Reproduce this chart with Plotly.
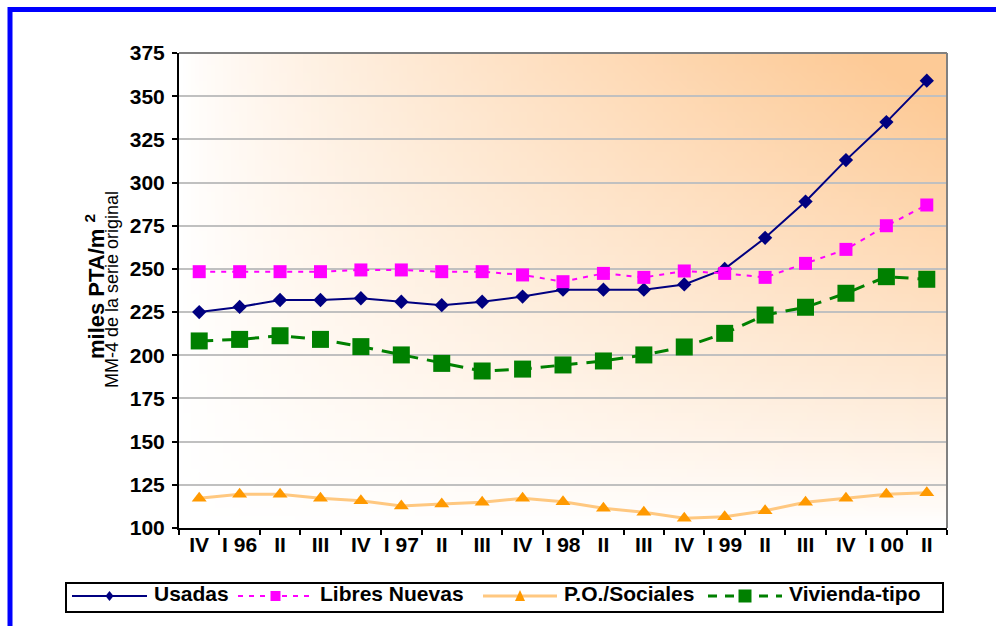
import base64
import struct
import zlib

import plotly.graph_objects as go

# Quarterly housing prices (thousand PTA per m2), four-quarter moving average
quarters = ["IV", "I 96", "II", "III", "IV", "I 97", "II", "III", "IV", "I 98",
            "II", "III", "IV", "I 99", "II", "III", "IV", "I 00", "II"]
usadas = [225, 228, 232, 232, 233, 231, 229, 231, 234, 238,
          238, 238, 241, 250, 268, 289, 313, 335, 359]
libres_nuevas = [248.4, 248.4, 248.4, 248.4, 249.4, 249.4, 248.4, 248.4, 246.5, 242.6,
                 247.4, 245.1, 248.8, 247.4, 245.1, 253.2, 261.3, 275.0, 287.0]
po_sociales = [117.2, 119.5, 119.5, 117.2, 115.8, 112.7, 113.9, 114.9, 117.2, 115.2,
               111.4, 109.1, 105.6, 106.5, 110.0, 114.9, 117.2, 119.5, 120.4]
vivienda_tipo = [208.3, 209.2, 211.3, 209.2, 205.0, 200.2, 195.3, 190.9, 192.0, 194.4,
                 196.7, 200.2, 204.8, 212.7, 223.3, 227.8, 235.9, 245.5, 244.0]
y_ticks = [100, 125, 150, 175, 200, 225, 250, 275, 300, 325, 350, 375]

W, H = 996, 626
L, R, T, B = 179, 49, 53, 98
PW, PH = W - L - R, H - T - B
FONT = "Arial, Liberation Sans, sans-serif"


def px_x(x):
    return (x - L) / PW


def px_y(y):
    return (H - B - y) / PH


def gradient_png(w, h):
    # white in the lower-left, peach towards the upper-right corner
    peach = (253, 202, 150)
    rows = []
    for j in range(h):
        yf = j / (h - 1)
        row = bytearray([0])
        for i in range(w):
            xf = i / (w - 1)
            t = min(1.0, 1.08 * (xf * (1 - yf)) ** 0.8)
            row += bytes(int(round(255 + (c - 255) * t)) for c in peach)
        rows.append(bytes(row))
    raw = b"".join(rows)

    def chunk(tag, data):
        c = struct.pack(">I", len(data)) + tag + data
        return c + struct.pack(">I", zlib.crc32(tag + data) & 0xFFFFFFFF)

    png = b"\x89PNG\r\n\x1a\n"
    png += chunk(b"IHDR", struct.pack(">IIBBBBB", w, h, 8, 2, 0, 0, 0))
    png += chunk(b"IDAT", zlib.compress(raw, 9))
    png += chunk(b"IEND", b"")
    return "data:image/png;base64," + base64.b64encode(png).decode()


xs = list(range(len(quarters)))

series = [
    dict(name="Usadas", y=usadas, line=dict(color="#000080", width=2),
         marker=dict(symbol="diamond", size=11, color="#000080")),
    dict(name="Libres Nuevas", y=libres_nuevas,
         line=dict(color="#FF00FF", width=2, dash="5px,6px"),
         marker=dict(symbol="square", size=13, color="#FF00FF")),
    dict(name="P.O./Sociales", y=po_sociales, line=dict(color="#FFC880", width=3),
         marker=dict(symbol="triangle-up", size=13, color="#FF9900")),
    dict(name="Vivienda-tipo", y=vivienda_tipo,
         line=dict(color="#008000", width=3, dash="14px,9px"),
         marker=dict(symbol="square", size=17, color="#008000")),
]

fig = go.Figure()
for s in series:
    fig.add_trace(go.Scatter(x=xs, y=s["y"], name=s["name"], mode="lines+markers",
                             line=s["line"], marker=s["marker"], showlegend=False,
                             cliponaxis=False))

shapes = []
# plot-area frame (grey top/right), outer blue frame
shapes.append(dict(type="line", xref="paper", yref="paper", x0=0, x1=1, y0=1, y1=1,
                   line=dict(color="#808080", width=2)))
shapes.append(dict(type="line", xref="paper", yref="paper", x0=1, x1=1, y0=0, y1=1,
                   line=dict(color="#808080", width=2)))
shapes.append(dict(type="rect", xref="paper", yref="paper",
                   x0=px_x(10), x1=px_x(1010), y0=px_y(640), y1=px_y(9.5),
                   line=dict(color="#0000FF", width=5), layer="above"))

# legend box and entries
shapes.append(dict(type="rect", xref="paper", yref="paper",
                   x0=px_x(66), x1=px_x(943), y0=px_y(612), y1=px_y(583),
                   line=dict(color="#000000", width=2), fillcolor="white"))
ly = 596
leg = [
    ("Usadas", 72, 147, 152, "#000080", 2, "solid", "diamond", "#000080", 5),
    ("Libres Nuevas", 238, 313, 318, "#FF00FF", 2, "5px,6px", "square", "#FF00FF", 5),
    ("P.O./Sociales", 483, 557, 562, "#FFC880", 3, "solid", "triangle", "#FF9900", 5),
    ("Vivienda-tipo", 708, 782, 787, "#008000", 3, "9px,8px", "square", "#008000", 6.5),
]
annotations = []
for name, x0, x1, tx, lc, lw, dash, sym, mc, r in leg:
    shapes.append(dict(type="line", xref="paper", yref="paper",
                       x0=px_x(x0), x1=px_x(x1), y0=px_y(ly), y1=px_y(ly),
                       line=dict(color=lc, width=lw, dash=dash)))
    cx = (x0 + x1) / 2
    if sym == "square":
        shapes.append(dict(type="rect", xref="paper", yref="paper",
                           x0=px_x(cx - r), x1=px_x(cx + r),
                           y0=px_y(ly + r), y1=px_y(ly - r),
                           line=dict(width=0), fillcolor=mc))
    elif sym == "diamond":
        pts = [(cx, ly - r), (cx + 4, ly), (cx, ly + r), (cx - 4, ly)]
        path = "M" + " L".join(f"{px_x(a)},{px_y(b)}" for a, b in pts) + " Z"
        shapes.append(dict(type="path", xref="paper", yref="paper", path=path,
                           line=dict(width=0), fillcolor=mc))
    else:
        pts = [(cx, ly - r - 1), (cx + r, ly + r), (cx - r, ly + r)]
        path = "M" + " L".join(f"{px_x(a)},{px_y(b)}" for a, b in pts) + " Z"
        shapes.append(dict(type="path", xref="paper", yref="paper", path=path,
                           line=dict(width=0), fillcolor=mc))
    annotations.append(dict(text=f"<b>{name}</b>", xref="paper", yref="paper",
                            x=px_x(tx), y=px_y(593), xanchor="left", yanchor="middle",
                            showarrow=False, font=dict(family=FONT, size=21, color="black")))

# y-axis titles
annotations.append(dict(text="<b>miles PTA/m <sup>2</sup></b>", xref="paper", yref="paper",
                        x=px_x(95), y=px_y(287), xanchor="center", yanchor="middle",
                        textangle=-90, showarrow=False,
                        font=dict(family=FONT, size=22, color="black")))
annotations.append(dict(text="MM-4 de la serie original", xref="paper", yref="paper",
                        x=px_x(112), y=px_y(290), xanchor="center", yanchor="middle",
                        textangle=-90, showarrow=False,
                        font=dict(family=FONT, size=18, color="black")))

tick_font = dict(family=FONT, size=21, color="black", weight="bold")

fig.update_layout(
    width=W, height=H,
    margin=dict(l=L, r=R, t=T, b=B, pad=0),
    paper_bgcolor="white",
    plot_bgcolor="rgba(0,0,0,0)",
    showlegend=False,
    shapes=shapes,
    annotations=annotations,
    images=[dict(source=gradient_png(96, 60), xref="paper", yref="paper",
                 x=0, y=1, sizex=1, sizey=1, sizing="stretch",
                 xanchor="left", yanchor="top", layer="below")],
    xaxis=dict(
        range=[-0.5, len(quarters) - 0.5],
        tickvals=xs, ticktext=quarters, ticks="", showgrid=False, zeroline=False,
        showline=True, linecolor="black", linewidth=2,
        tickfont=tick_font,
        ticklabelstandoff=-3,
        minor=dict(tickvals=[i - 0.5 for i in range(len(quarters) + 1)],
                   ticks="outside", ticklen=5, tickwidth=2, tickcolor="black",
                   showgrid=False),
        fixedrange=True,
    ),
    yaxis=dict(
        range=[100, 375], tickvals=y_ticks, ticks="outside", ticklen=5, tickwidth=2,
        tickcolor="black", showline=True, linecolor="black", linewidth=2,
        showgrid=True, gridcolor="#C0C0C0", gridwidth=2, zeroline=False,
        tickfont=tick_font,
        ticklabelstandoff=3,
        fixedrange=True,
    ),
)

fig.write_html("out.html")
